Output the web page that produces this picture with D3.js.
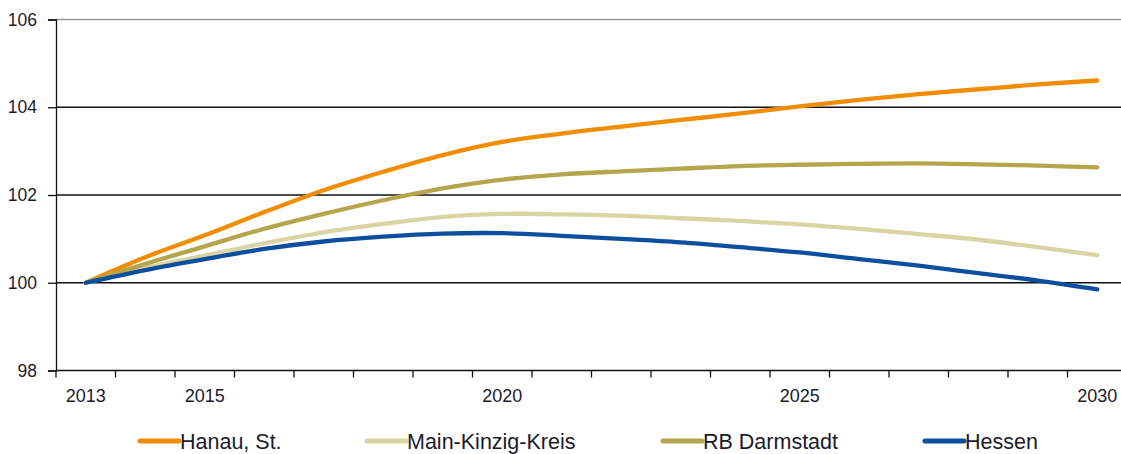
<!DOCTYPE html>
<html>
<head>
<meta charset="utf-8">
<script src="https://cdn.jsdelivr.net/npm/d3@7/dist/d3.min.js"></script>
<style>
  html, body { margin: 0; padding: 0; background: #fff; }
  svg { display: block; font-family: "Liberation Sans", Arial, sans-serif; }
</style>
</head>
<body>
<svg id="chart" width="1121" height="454"></svg>
<script>
const years = [2013,2014,2015,2016,2017,2018,2019,2020,2021,2022,2023,2024,2025,2026,2027,2028,2029,2030];
const labeledYears = [2013, 2015, 2020, 2025, 2030];
const yTicks = [98, 100, 102, 104, 106];

const seriesNames = ["Hanau, St.", "Main-Kinzig-Kreis", "RB Darmstadt", "Hessen"];
const seriesColors = ["#F28C00", "#D9D4A2", "#B5A64E", "#0B4F9E"];

const hanau = [100, 100.58, 101.08, 101.61, 102.11, 102.53, 102.91, 103.21, 103.40, 103.56, 103.71, 103.86, 104.02, 104.17, 104.30, 104.41, 104.52, 104.61];
const mainKinzig = [100, 100.34, 100.62, 100.90, 101.15, 101.34, 101.50, 101.57, 101.56, 101.53, 101.47, 101.41, 101.33, 101.23, 101.11, 100.98, 100.81, 100.63];
const rbDarmstadt = [100, 100.43, 100.83, 101.23, 101.57, 101.88, 102.15, 102.35, 102.47, 102.54, 102.60, 102.66, 102.69, 102.71, 102.72, 102.70, 102.67, 102.63];
const hessen = [100, 100.29, 100.54, 100.77, 100.94, 101.05, 101.12, 101.13, 101.07, 101.00, 100.92, 100.81, 100.69, 100.54, 100.39, 100.22, 100.05, 99.85];

const seriesValues = [hanau, mainKinzig, rbDarmstadt, hessen];

const svg = d3.select("#chart");
const plotLeft = 56, plotRight = 1127, plotTop = 19.5, plotBottom = 370.5;

const x = d3.scaleBand().domain(years).range([plotLeft, plotRight]).paddingInner(0).paddingOuter(0);
const y = d3.scaleLinear().domain([98, 106]).range([plotBottom, plotTop]);
const cx = d => x(d) + x.bandwidth() / 2;

// gridlines
svg.append("g").selectAll("line")
  .data(yTicks.filter(t => t > 98))
  .join("line")
  .attr("x1", plotLeft).attr("x2", 1121)
  .attr("y1", d => y(d)).attr("y2", d => y(d))
  .attr("stroke", d => d === 106 ? "#9a9a9a" : "#111")
  .attr("stroke-width", 1.3);

// y axis
const yAxis = d3.axisLeft(y).tickValues(yTicks).tickSize(8).tickPadding(11).tickFormat(d3.format("d"));
const gy = svg.append("g").attr("transform", `translate(${plotLeft},0)`).call(yAxis);
gy.select(".domain").attr("stroke", "#111").attr("stroke-width", 1.3);
gy.selectAll(".tick line").attr("stroke", "#111").attr("stroke-width", 1.3);
gy.selectAll(".tick text").attr("font-size", 17.5).attr("fill", "#1b1b2a")
  .attr("font-family", "Liberation Sans, Arial, sans-serif");

// x axis: ticks at category boundaries
const gx = svg.append("g").attr("transform", `translate(0,${plotBottom})`);
gx.append("line").attr("x1", plotLeft).attr("x2", 1121).attr("y1", 0).attr("y2", 0)
  .attr("stroke", "#111").attr("stroke-width", 1.3);
gx.selectAll("line.tk").data(years).join("line").attr("class", "tk")
  .attr("x1", d => x(d)).attr("x2", d => x(d))
  .attr("y1", 0).attr("y2", 7)
  .attr("stroke", "#111").attr("stroke-width", 1.3);
gx.selectAll("text").data(labeledYears).join("text")
  .attr("x", d => cx(d)).attr("y", 31)
  .attr("text-anchor", "middle")
  .attr("font-size", 18).attr("fill", "#1b1b2a")
  .text(d => d);

// lines
const line = d3.line().x((d, i) => cx(years[i])).y(d => y(d)).curve(d3.curveCatmullRom.alpha(0.5));
svg.append("g").selectAll("path")
  .data(seriesValues)
  .join("path")
  .attr("d", d => line(d))
  .attr("fill", "none")
  .attr("stroke", (d, i) => seriesColors[i])
  .attr("stroke-width", 4.3)
  .attr("stroke-linecap", "round")
  .attr("stroke-linejoin", "round");

// legend
const legendX = [140, 367, 663, 925];
const lg = svg.append("g").selectAll("g").data(seriesNames).join("g")
  .attr("transform", (d, i) => `translate(${legendX[i]},441)`);
lg.append("line").attr("x1", 0).attr("x2", 39).attr("y1", 0).attr("y2", 0)
  .attr("stroke", (d, i) => seriesColors[i]).attr("stroke-width", 5).attr("stroke-linecap", "round");
lg.append("text").attr("x", 40).attr("y", 8)
  .attr("font-size", 21.5).attr("fill", "#1b1b2a")
  .text(d => d);
</script>
</body>
</html>
